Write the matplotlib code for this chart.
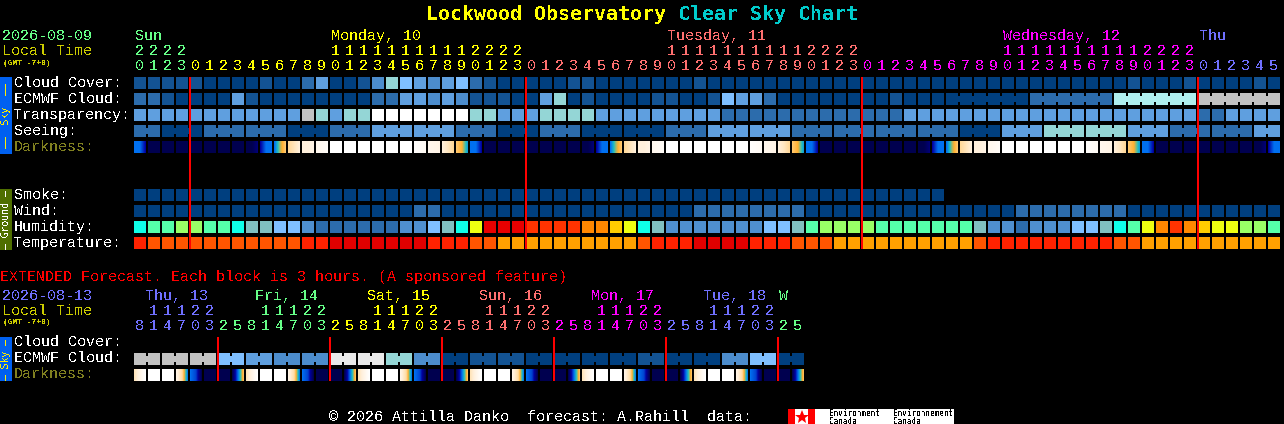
import numpy as np
import matplotlib
matplotlib.use('Agg')
import matplotlib.pyplot as plt
from matplotlib.colors import LinearSegmentedColormap

plt.rcParams['font.family'] = ['Liberation Mono', 'DejaVu Sans Mono']
plt.rcParams['text.antialiased'] = False

# levels index into sky_palette
cloud_cover = [1,1,1,1,1,0,0,0,0,1,
               0,0,2,4,0,0,1,3,6,5,
               4,3,4,5,2,1,0,0,0,0,
               0,1,1,0,0,0,0,0,0,0,
               1,0,0,0,0,0,0,0,0,0,
               0,0,0,0,0,0,0,0,0,0,
               0,0,0,0,0,0,0,0,0,0,
               0,1,0,0,0,1,0,0,0,0,
               1,0]
ecmwf_cloud = [2,2,1,0,0,0,0,4,1,0,
               0,0,0,0,0,0,0,2,2,4,
               4,3,4,3,1,1,1,0,0,4,
               6,0,1,0,0,0,0,1,1,0,
               0,1,5,4,4,2,0,0,0,0,
               0,0,0,0,1,0,0,0,0,0,
               0,0,0,0,2,2,2,2,2,2,
               7,7,7,7,7,7,8,8,8,8,
               8,8]
transparency = [4,4,4,4,4,4,4,4,4,4,
                4,4,8,6,4,6,6,10,10,10,
                10,10,10,10,6,6,4,4,4,6,
                6,6,6,4,4,4,4,4,4,4,
                4,4,2,2,2,2,2,2,2,2,
                2,2,2,2,2,4,4,4,4,4,
                4,4,4,4,4,4,4,4,4,4,
                4,4,4,4,4,4,2,2,4,4,
                4,4]
seeing = [2,2,0,0,0,2,2,2,2,2,
          2,0,0,0,2,2,2,4,4,4,
          4,4,4,2,2,2,0,0,0,2,
          2,2,0,0,0,0,0,0,2,2,
          2,4,4,4,4,4,4,2,2,2,
          2,2,2,2,2,2,2,2,2,0,
          0,0,4,4,4,6,6,6,6,6,
          6,4,4,4,2,2,2,2,2,2,
          4,4]
smoke = [0] * 58
wind = [0,0,0,0,0,0,0,0,0,0,
        0,0,0,0,0,0,0,0,0,0,
        2,2,0,0,0,0,0,0,0,0,
        0,0,0,0,0,0,0,0,0,0,
        2,2,2,2,2,2,2,2,0,0,
        0,0,0,0,0,0,0,0,0,0,
        0,0,0,2,2,2,2,2,2,2,
        2,0,0,0,0,0,0,0,0,0,
        0,0]
# humidity and temperature index their own palettes
humidity = [5,4,4,3,3,4,4,5,6,6,
            7,7,8,9,9,9,9,9,9,8,
            8,7,6,5,2,13,13,13,12,12,
            12,12,11,11,10,2,5,6,8,8,
            8,8,8,8,8,7,7,6,4,3,
            3,3,3,4,4,4,4,4,4,4,
            6,8,8,9,8,8,8,7,7,6,
            5,4,2,11,12,11,10,2,2,3,
            3,4]
temperature = [1,2,2,2,2,2,2,2,2,2,
               2,2,1,1,0,0,0,0,0,0,
               0,1,1,1,2,2,3,3,3,3,
               3,3,3,3,3,3,2,1,1,1,
               0,0,0,0,1,1,1,2,2,2,
               3,3,3,3,3,3,3,3,3,3,
               2,1,1,1,1,1,1,1,1,1,
               2,2,3,3,3,3,3,3,3,3,
               3,3]
# darkness runs over darkness_palette, three samples across every block
darkness_left = [2,0,0,0,0,0,0,0,0,1,
                 2,5,6,6.5,7,7,7,7,7,7,
                 6.9,6.5,6,4.6,2,0,0,0,0,0,
                 0,0,0,1,2,5,6,6.5,7,7,
                 7,7,7,7,6.9,6.5,6,4.6,2,0,
                 0,0,0,0,0,0,0,1,2,5,
                 6,6.5,7,7,7,7,7,7,6.9,6.5,
                 6,4.6,2,0,0,0,0,0,0,0,
                 0,1]
darkness_mid = [2,0,0,0,0,0,0,0,0,2,
                3.6,5.5,6,6.6,7,7,7,7,7,7,
                6.8,6.4,5.6,4,2,0,0,0,0,0,
                0,0,0,2,3.6,5.5,6,6.6,7,7,
                7,7,7,7,6.8,6.4,5.6,4,2,0,
                0,0,0,0,0,0,0,2,3.6,5.5,
                6,6.6,7,7,7,7,7,7,6.8,6.4,
                5.6,4,2,0,0,0,0,0,0,0,
                0,2]
darkness_right = [1,0,0,0,0,0,0,0,.5,2,
                  4.6,6,6.3,6.8,7,7,7,7,7,7,
                  6.7,6.3,5,2.6,1,0,0,0,0,0,
                  0,0,.5,2,4.6,6,6.3,6.8,7,7,
                  7,7,7,7,6.7,6.3,5,2.6,1,0,
                  0,0,0,0,0,0,.5,2,4.6,6,
                  6.3,6.8,7,7,7,7,7,7,6.7,6.3,
                  5,2.6,1,0,0,0,0,0,0,0,
                  .5,2]

ext_ecmwf = [8,8,8,8,8,8,5,5,4,4,
             3,3,3,3,9,9,9,9,6,6,
             3,3,0,0,1,1,1,1,0,0,
             0,0,0,0,0,0,1,1,0,0,
             0,0,3,3,5,5,0,0]
ext_dark_left = [5.5,7,7,6.3,2,0,0,0,
                 5.5,7,7,6.3,2,0,0,0,
                 5.5,7,7,6.3,2,0,0,0,
                 5.5,7,7,6.3,2,0,0,0,
                 5.5,7,7,6.3,2,0,0,0,
                 5.5,7,7,6.3,2,0,0,0]
ext_dark_mid = [6.3,7,7,5.2,1.6,0,0,2,
                6.3,7,7,5.2,1.6,0,0,2,
                6.3,7,7,5.2,1.6,0,0,2,
                6.3,7,7,5.2,1.6,0,0,2,
                6.3,7,7,5.2,1.6,0,0,2,
                6.3,7,7,5.2,1.6,0,0,2]
ext_dark_right = [7,7,7,2.2,0,0,0,4.4,
                  7,7,7,2.2,0,0,0,4.4,
                  7,7,7,2.2,0,0,0,4.4,
                  7,7,7,2.2,0,0,0,4.4,
                  7,7,7,2.2,0,0,0,4.4,
                  7,7,7,2.2,0,0,0,4.4]

hour_tens = ("2222" "          " "1111111111" "2222"
             "          " "1111111111" "2222"
             "          " "1111111111" "2222" "      ")
hour_units = ("0123" "012345678901234567890123" "012345678901234567890123"
              "012345678901234567890123" "012345")
ext_tens = " 11122   11122   11122   11122   11122   11122   "[:48]
ext_units = "814703" "25814703" "25814703" "25814703" "25814703" "25814703" "25"

green = '#66ff88'
yellow = '#ffff00'
salmon = '#ff7070'
magenta = '#ff00ff'
periwinkle = '#7070ff'

day_labels = ['Sun', 'Monday, 10', 'Tuesday, 11', 'Wednesday, 12', 'Thu']
day_x = [135, 331, 667, 1003, 1199]
day_colors = [green, yellow, salmon, magenta, periwinkle]
hour_spans = [(0, 4), (4, 28), (28, 52), (52, 76), (76, 82)]
midnights = [4, 28, 52, 76]

ext_days = ['Thu, 13', 'Fri, 14', 'Sat, 15', 'Sun, 16', 'Mon, 17', 'Tue, 18', 'W']
ext_day_x = [145, 255, 367, 479, 591, 703, 779]
ext_colors = [periwinkle, green, yellow, salmon, magenta, periwinkle, green]
ext_spans = [(0, 6), (6, 14), (14, 22), (22, 30), (30, 38), (38, 46), (46, 48)]
ext_midnights = [6, 14, 22, 30, 38, 46]

sky_palette = ['#003f7f', '#135393', '#2c6cac', '#4c8ccc', '#5f9fdf', '#7fbfff',
               '#94d6d6', '#afeeee', '#c2c2c2', '#e9e9e9', '#ffffff']
humidity_palette = ['#000000', '#000000', '#eeff11', '#99ff66', '#55ffaa', '#0fffe8', '#80c0c0',
                    '#7fbfff', '#4f8fcf', '#2c6cac', '#ffcc00', '#ff8800', '#ff3300', '#e80000']
temperature_palette = ['#e00000', '#ff2200', '#ff5500', '#ffa000']
darkness_palette = ['#00004f', '#0000a0', '#0070f0', '#20c0c0', '#ffb030', '#ffd898', '#fff0dc', '#ffffff']
darkness_cmap = LinearSegmentedColormap.from_list('darkness', darkness_palette, N=512)

CELL = 12
PITCH = 14
LEFT = 134

fig = plt.figure(figsize=(12.84, 4.24), dpi=100, facecolor='black')
ax = fig.add_axes([0, 0, 1, 1])
ax.set_facecolor('black')
ax.axis('off')


def draw_row(levels, top, palette, joined=None):
    cols = np.arange(len(levels))
    colors = [palette[v] for v in levels]
    ax.bar(LEFT + cols * PITCH, CELL, width=CELL, bottom=top, align='edge', color=colors, linewidth=0)
    if joined is not None:
        # neighbouring blocks of one forecast step share a narrow bridge
        for c in cols[:-1]:
            if joined(c) and levels[c] == levels[c + 1]:
                ax.bar(LEFT + c * PITCH + CELL, CELL / 2, width=PITCH - CELL, bottom=top + 3,
                       align='edge', color=colors[c], linewidth=0)


def draw_darkness(left, mid, right, top):
    for c in range(len(left)):
        ramp = np.interp(np.arange(CELL), [0, (CELL - 1) / 2, CELL - 1], [left[c], mid[c], right[c]])
        ax.imshow([ramp], extent=(LEFT + c * PITCH, LEFT + c * PITCH + CELL, top + CELL, top), cmap=darkness_cmap,
                  vmin=0, vmax=7, aspect='auto', interpolation='nearest')


def label(x, y, s, color='white', size=10.8, **kw):
    ax.text(x, y, s, color=color, fontsize=size, ha='left', va='baseline', **kw)


def side_bar(top, bottom, color, s, text_color):
    ax.bar(0, bottom - top, width=12, bottom=top, align='edge', color=color, linewidth=0)
    ax.text(6, (top + bottom) / 2, s, color=text_color, fontsize=7, rotation=90, ha='center', va='center',
            family='DejaVu Sans Mono')


def digits(chars, spans, colors, baseline):
    for (a, b), col in zip(spans, colors):
        for c in range(a, b):
            if chars[c] != ' ':
                label(LEFT + c * PITCH + 1, baseline, chars[c], col)


# title
ax.text(426, 20, 'Lockwood Observatory', color='#ffff00', fontsize=14.35, fontweight='bold', ha='left',
        va='baseline', family='DejaVu Sans Mono')
ax.text(678, 20, 'Clear Sky Chart', color='#00cccc', fontsize=14.35, fontweight='bold', ha='left',
        va='baseline', family='DejaVu Sans Mono')

# hourly header
label(2, 40, '2026-08-09', green)
label(2, 55, 'Local Time', '#cccc00')
label(3, 65, '(GMT -7+0)', '#cccc00', size=5.7, fontweight='bold')
for name, x, col in zip(day_labels, day_x, day_colors):
    label(x, 40, name, col)
digits(hour_tens, hour_spans, day_colors, 55)
digits(hour_units, hour_spans, day_colors, 70)

# hourly rows
draw_row(cloud_cover, 77, sky_palette)
draw_row(ecmwf_cloud, 93, sky_palette, joined=lambda c: c >= 58)
draw_row(transparency, 109, sky_palette)
draw_row(seeing, 125, sky_palette, joined=lambda c: (c + 1) % 3 != 2)
draw_darkness(darkness_left, darkness_mid, darkness_right, 141)
draw_row(smoke, 189, sky_palette)
draw_row(wind, 205, sky_palette)
draw_row(humidity, 221, humidity_palette)
draw_row(temperature, 237, temperature_palette)

for text, y in zip(['Cloud Cover:', 'ECMWF Cloud:', 'Transparency:', 'Seeing:'], [87, 103, 119, 135]):
    label(14, y, text)
label(14, 151, 'Darkness:', '#808020')
for text, y in zip(['Smoke:', 'Wind:', 'Humidity:', 'Temperature:'], [199, 215, 231, 247]):
    label(14, y, text)

side_bar(77, 154, '#0060f0', '\u2014\u2014  Sky  \u2014\u2014', '#ffee00')
side_bar(189, 250, '#4f6f00', '\u2014 Ground \u2014', 'white')
ax.vlines(LEFT + np.array(midnights) * PITCH, 77, 249, color='#ff0000', linewidth=1.44)

# extended forecast
label(0, 281, 'EXTENDED Forecast. Each block is 3 hours. (A sponsored feature)', '#ff0000')
label(2, 300, '2026-08-13', periwinkle)
label(2, 315, 'Local Time', '#cccc00')
label(3, 324, '(GMT -7+0)', '#cccc00', size=5.7, fontweight='bold')
for name, x, col in zip(ext_days, ext_day_x, ext_colors):
    label(x, 300, name, col)
digits(ext_tens, ext_spans, ext_colors, 315)
digits(ext_units, ext_spans, ext_colors, 330)

draw_row(ext_ecmwf, 353, sky_palette, joined=lambda c: c % 2 == 0)
draw_darkness(ext_dark_left, ext_dark_mid, ext_dark_right, 369)
label(14, 346, 'Cloud Cover:')
label(14, 362, 'ECMWF Cloud:')
label(14, 378, 'Darkness:', '#808020')
side_bar(337, 381, '#0060f0', '\u2014 Sky \u2014', '#ffee00')
ax.vlines(LEFT + np.array(ext_midnights) * PITCH, 337, 381, color='#ff0000', linewidth=1.44)

# footer and logo
label(329, 421, '\u00a9 2026 Attilla Danko  forecast: A.Rahill  data:')
ax.bar(788, 15, width=166, bottom=409, align='edge', color='white', linewidth=0)
ax.bar([788, 808], 15, width=7, bottom=409, align='edge', color='#ff0000', linewidth=0)
ax.plot([801.5], [416.5], marker='*', markersize=10, color='#ff0000', markeredgewidth=0)
for x, word in zip([829, 893], ['Environment', 'Environnement']):
    ax.text(x, 416, word, color='black', fontsize=5.5, ha='left', va='baseline', family='DejaVu Sans Mono')
    ax.text(x, 424, 'Canada', color='black', fontsize=5.5, ha='left', va='baseline', family='DejaVu Sans Mono')

ax.set_xlim(0, 1284)
ax.set_ylim(424, 0)
fig.savefig('out.png', dpi=100, facecolor='black')
